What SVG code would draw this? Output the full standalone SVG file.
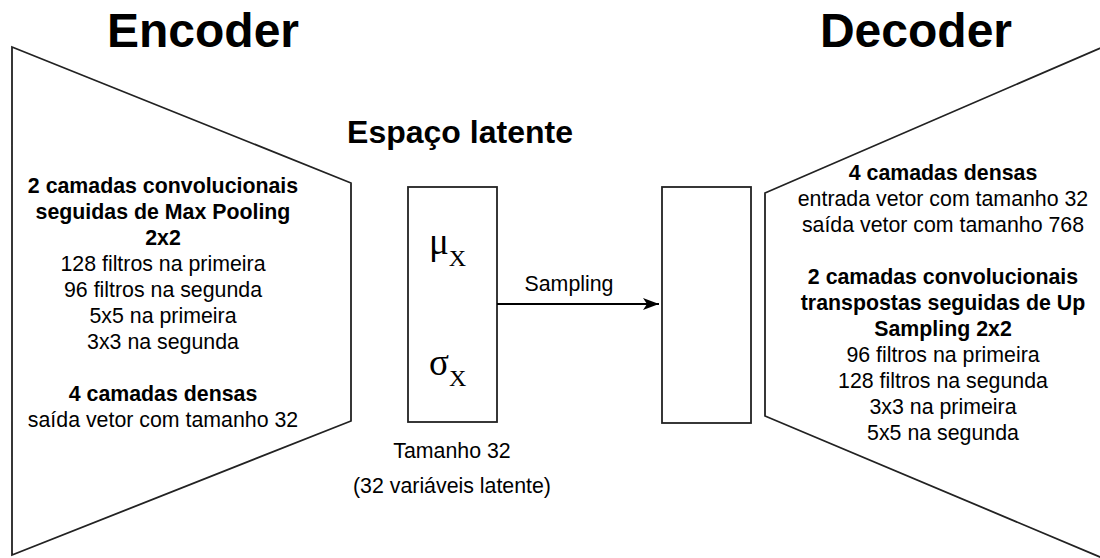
<svg xmlns="http://www.w3.org/2000/svg" width="1100" height="558" viewBox="0 0 1100 558">
<defs>
<style>
.shape{fill:#fff;stroke:#222;stroke-width:1.8}
.t{font-family:"Liberation Sans",Arial,sans-serif;font-size:21.33px;fill:#000;text-anchor:middle}
.b{font-weight:bold}
.title{font-family:"Liberation Sans",Arial,sans-serif;font-weight:bold;font-size:48px;text-anchor:middle}
.sub{font-family:"Liberation Sans",Arial,sans-serif;font-weight:bold;font-size:32px;text-anchor:middle}
.greek{font-family:"Liberation Serif","Times New Roman",serif;font-size:37px}
.idx{font-family:"Liberation Serif","Times New Roman",serif;font-size:24px}
.line{fill:none;stroke:#000;stroke-width:1.8}
</style>
<marker id="arr" viewBox="0 0 16 12" refX="16" refY="6" markerWidth="16" markerHeight="12" markerUnits="userSpaceOnUse" orient="auto">
<path d="M0,0 L16,6 L0,12 L4,6 Z" fill="#000"/>
</marker>
</defs>
<rect width="1100" height="558" fill="#fff"/>
<text class="title" x="203" y="47">Encoder</text>
<text class="title" x="916" y="47">Decoder</text>
<text class="sub" x="460" y="143">Espaço latente</text>

<g id="encoder">
<polygon class="shape" points="12,47 351,183 351,421 12,555"/>
<text class="t b" x="163" y="193">2 camadas convolucionais</text>
<text class="t b" x="163" y="219">seguidas de Max Pooling</text>
<text class="t b" x="163" y="245">2x2</text>
<text class="t" x="163" y="271">128 filtros na primeira</text>
<text class="t" x="163" y="297">96 filtros na segunda</text>
<text class="t" x="163" y="323">5x5 na primeira</text>
<text class="t" x="163" y="349">3x3 na segunda</text>
<text class="t b" x="163" y="401">4 camadas densas</text>
<text class="t" x="163" y="427">saída vetor com tamanho 32</text>
</g>

<g id="latent">
<rect class="shape" x="408" y="187" width="89" height="235"/>
<text x="429" y="254"><tspan class="greek">μ</tspan><tspan class="idx" dy="12">X</tspan></text>
<text x="429" y="375"><tspan class="greek">σ</tspan><tspan class="idx" dy="11">X</tspan></text>
<text class="t" x="452" y="458">Tamanho 32</text>
<text class="t" x="452" y="493">(32 variáveis latente)</text>
</g>

<g id="decoder-input">
<rect class="shape" x="662" y="187" width="89" height="236"/>
</g>

<g id="decoder">
<polygon class="shape" points="765,193 1112,43 1112,562 765,416"/>
<text class="t b" x="943" y="180">4 camadas densas</text>
<text class="t" x="943" y="206">entrada vetor com tamanho 32</text>
<text class="t" x="943" y="232">saída vetor com tamanho 768</text>
<text class="t b" x="943" y="284">2 camadas convolucionais</text>
<text class="t b" x="943" y="310">transpostas seguidas de Up</text>
<text class="t b" x="943" y="336">Sampling 2x2</text>
<text class="t" x="943" y="362">96 filtros na primeira</text>
<text class="t" x="943" y="388">128 filtros na segunda</text>
<text class="t" x="943" y="414">3x3 na primeira</text>
<text class="t" x="943" y="440">5x5 na segunda</text>
</g>

<g id="connectors">
<line class="line" x1="497" y1="304" x2="659" y2="304" marker-end="url(#arr)"/>
<text class="t" x="569" y="291">Sampling</text>
</g>
</svg>
